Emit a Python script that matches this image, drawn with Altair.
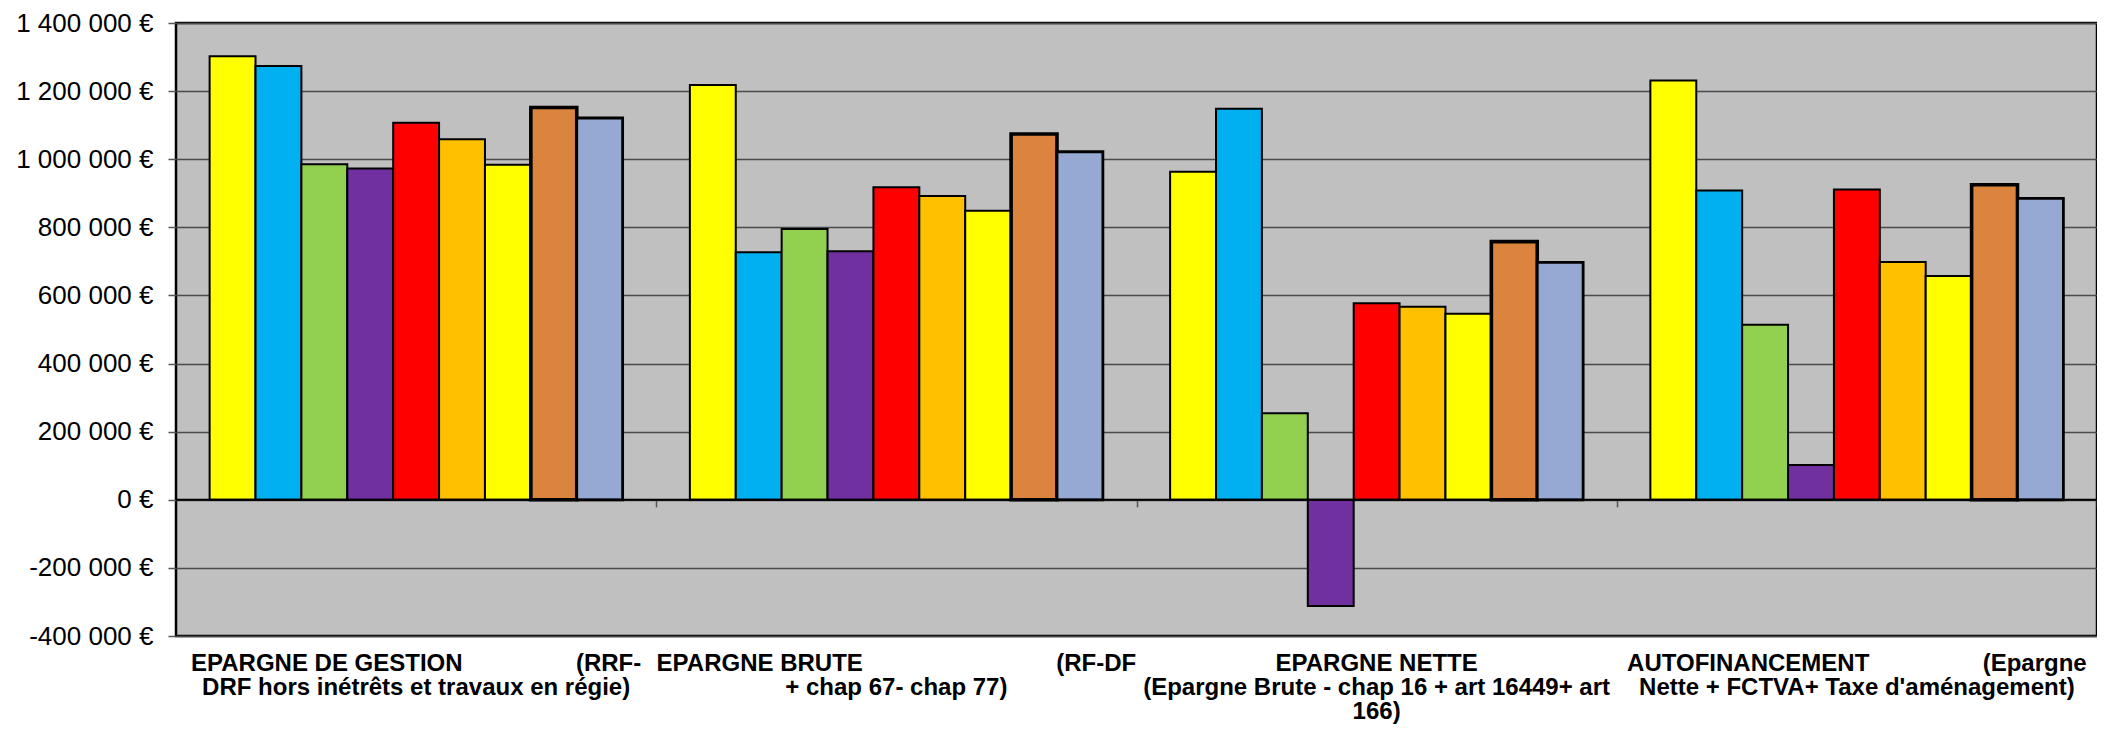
import altair as alt
import pandas as pd

NBSP = "\u00a0"

# x-axis label lines (reference wraps the long labels)
label_lines = [
    ["EPARGNE DE GESTION" + NBSP * 17 + "(RRF-", "DRF hors inétrêts et travaux en régie)"],
    ["EPARGNE BRUTE" + NBSP * 29 + "(RF-DF", "+ chap 67- chap 77)"],
    ["EPARGNE NETTE", "(Epargne Brute - chap 16 + art 16449+ art", "166)"],
    ["AUTOFINANCEMENT" + NBSP * 17 + "(Epargne", "Nette + FCTVA+ Taxe d'aménagement)"],
]
categories = ["|".join(lines) for lines in label_lines]

series = ["Série 1", "Série 2", "Série 3", "Série 4", "Série 5",
          "Série 6", "Série 7", "Série 8", "Série 9"]
colors = ["#FFFF00", "#00B0F0", "#92D050", "#7030A0", "#FF0000",
          "#FFC000", "#FFFF00", "#DB843D", "#95A9D2"]

values_gestion = [1302000, 1274000, 985000, 973000, 1107000, 1059000, 984000, 1152000, 1121000]
values_brute = [1218000, 727000, 795000, 730000, 918000, 892000, 849000, 1074000, 1022000]
values_nette = [963000, 1148000, 254000, -312000, 577000, 567000, 546000, 758000, 697000]
values_autofin = [1231000, 908000, 514000, 102000, 911000, 698000, 657000, 925000, 885000]

y_ticks = [-400000, -200000, 0, 200000, 400000, 600000, 800000, 1000000, 1200000, 1400000]

rows = []
for cat, vals in zip(categories, [values_gestion, values_brute, values_nette, values_autofin]):
    for s, v in zip(series, vals):
        rows.append({"category": cat, "series": s, "value": v})
df = pd.DataFrame(rows)
zero_df = pd.DataFrame({"zero": [0]})

W, H = 1921, 613
ymin, ymax = y_ticks[0], y_ticks[-1]
pad_inner, pad_outer = 0.14, 0.07
step = W / (len(categories) - pad_inner + 2 * pad_outer)
tick_off = pad_inner * step / 2
zero_offset = -H * (0 - ymin) / (ymax - ymin)

FONT = "Liberation Sans"

xscale = alt.Scale(domain=categories, paddingInner=pad_inner, paddingOuter=pad_outer)

y_enc = alt.Y(
    "value:Q",
    scale=alt.Scale(domain=[ymin, ymax], nice=False, zero=False),
    axis=alt.Axis(
        values=y_ticks, title=None,
        labelExpr="(datum.value < 0 ? '-' : '') + replace(replace(format(abs(datum.value), ','), ',', ' '), ',', ' ') + ' €'",
        labelFont=FONT, labelFontSize=26, labelColor="black", labelPadding=15,
        tickSize=8, tickColor="#555555", tickWidth=1.5,
        domain=False, grid=True, gridColor="#4a4a4a", gridWidth=1.3,
    ),
)

stroke_width_enc = {
    "condition": [
        {"test": f"datum.series == '{series[7]}'", "value": 3.6},
        {"test": f"datum.series == '{series[8]}'", "value": 2.8},
    ],
    "value": 2,
}

bars = alt.Chart(df).mark_bar(stroke="black", strokeWidth=2).encode(
    x=alt.X(
        "category:N", sort=categories, scale=xscale,
        axis=alt.Axis(
            orient="bottom",
            title=None, labelExpr="split(datum.label, '|')", labelAngle=0,
            ticks=False, tickSize=0, domain=False, grid=False,
            labelFont=FONT, labelFontWeight="bold", labelFontSize=24, labelColor="black",
            labelPadding=15, labelLineHeight=24, labelLimit=0, labelOverlap=False,
            labelBaseline="top", labelAlign="center",
        ),
    ),
    xOffset=alt.XOffset("series:N", sort=series, scale=alt.Scale(paddingInner=0, paddingOuter=0)),
    y=y_enc,
    color=alt.Color("series:N", sort=series, scale=alt.Scale(domain=series, range=colors), legend=None),
    strokeWidth=stroke_width_enc,
)

tick_layer = alt.Chart(df).mark_point(opacity=0).encode(
    x=alt.X(
        "category:N", sort=categories, scale=xscale,
        axis=alt.Axis(
            orient="bottom",
            title=None, labels=False, domain=False, grid=False,
            ticks=True, bandPosition=1, tickOffset=tick_off, tickSize=7,
            tickColor="#555555", tickWidth=1.5, offset=zero_offset,
        ),
    ),
    y=y_enc,
)

zero_rule = alt.Chart(zero_df).mark_rule(color="black", strokeWidth=2).encode(
    y=alt.Y("zero:Q")
)

chart = (
    alt.layer(bars, zero_rule, tick_layer)
    .resolve_axis(x="independent")
    .properties(
        width=W, height=H,
        padding={"left": 168, "top": 15, "right": 0, "bottom": 88},
        autosize=alt.AutoSizeParams(type="none"),
        background="white",
    )
    .configure_view(fill="#C0C0C0", stroke="black", strokeWidth=2.5)
)

chart.save("out.html", embed_options={"renderer": "svg", "actions": False})
